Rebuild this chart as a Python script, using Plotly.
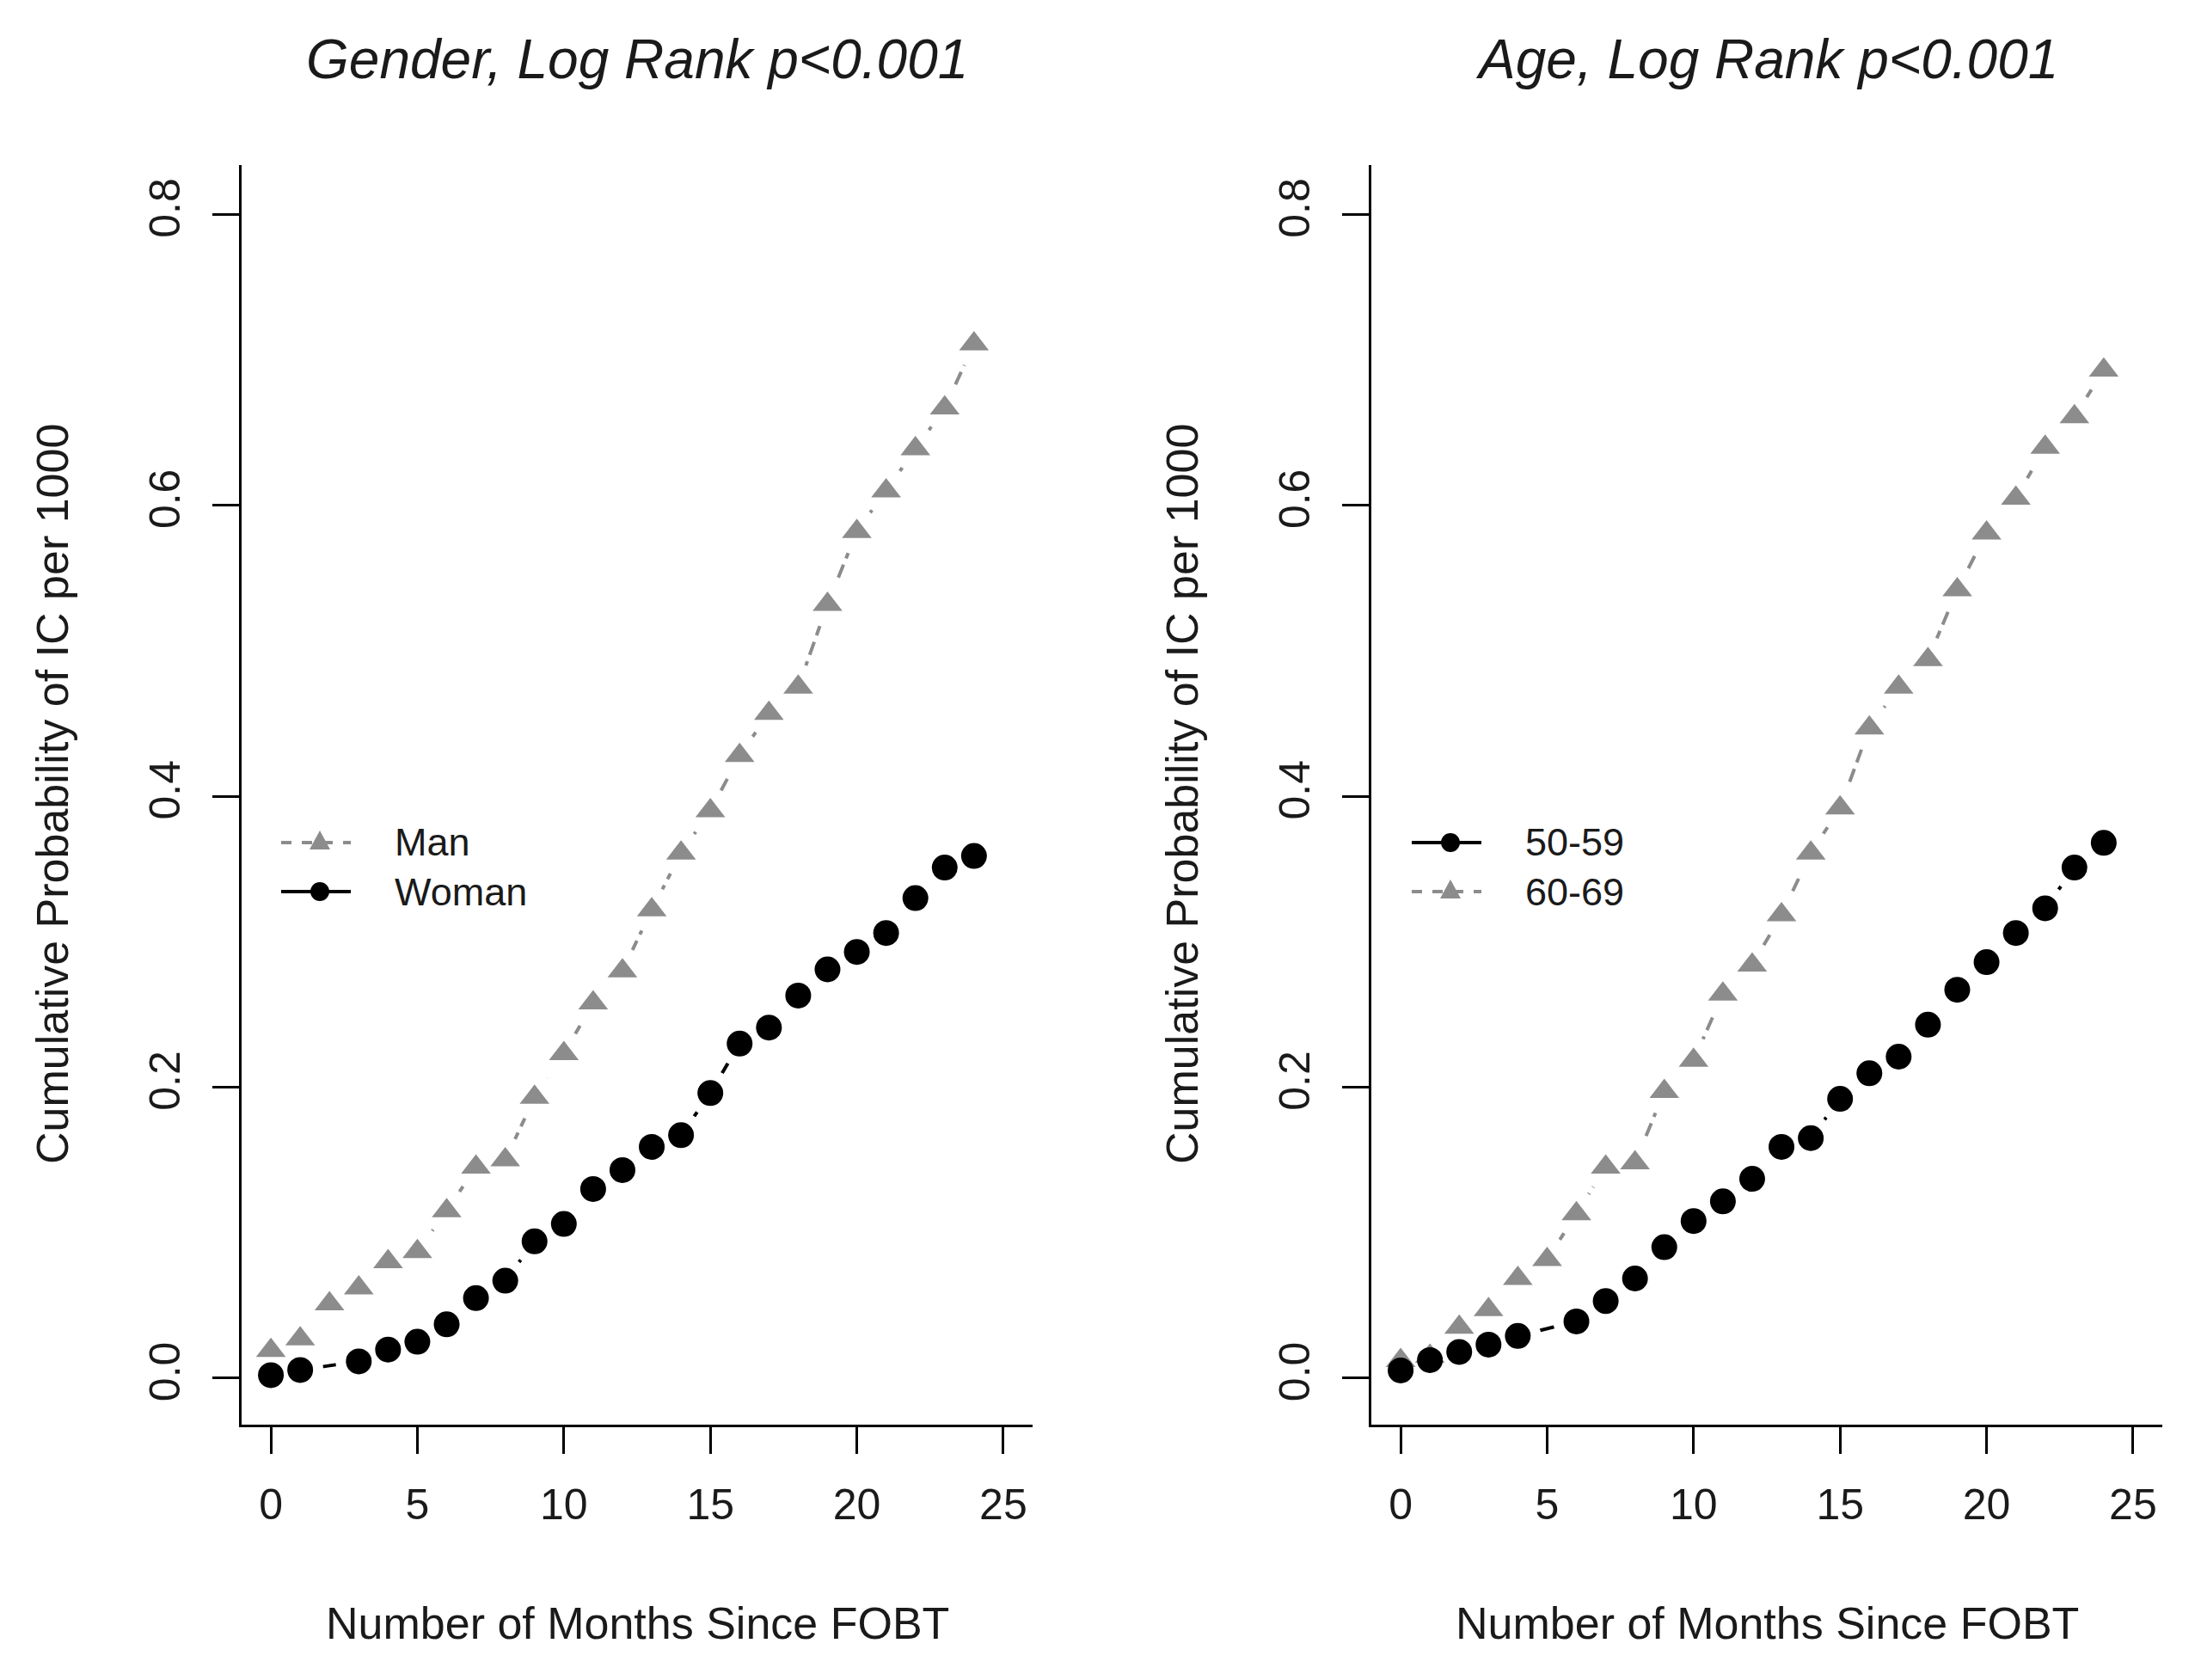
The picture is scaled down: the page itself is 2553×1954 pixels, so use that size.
import plotly.graph_objects as go

# ---------------- data ----------------
months = list(range(25))

man = [0.019, 0.027, 0.051, 0.062, 0.080, 0.087, 0.115, 0.145, 0.150, 0.193,
       0.223, 0.258, 0.280, 0.322, 0.361, 0.390, 0.428, 0.457, 0.475, 0.532,
       0.582, 0.610, 0.639, 0.667, 0.711]

woman_months = [0, 1, 3, 4, 5, 6, 7, 8, 9, 10, 11, 12, 13, 14, 15, 16, 17, 18,
                19, 20, 21, 22, 23, 24]
woman = [0.002, 0.0056, 0.0115, 0.0196, 0.025, 0.037, 0.055, 0.067, 0.094,
         0.106, 0.130, 0.143, 0.159, 0.167, 0.196, 0.230, 0.241, 0.263, 0.281,
         0.293, 0.306, 0.330, 0.351, 0.359]

age50_months = [0, 1, 2, 3, 4, 6, 7, 8, 9, 10, 11, 12, 13, 14, 15, 16, 17, 18,
                19, 20, 21, 22, 23, 24]
age50 = [0.0053, 0.0124, 0.018, 0.023, 0.029, 0.039, 0.053, 0.0685, 0.090,
         0.108, 0.1215, 0.137, 0.159, 0.165, 0.192, 0.2096, 0.221, 0.243,
         0.267, 0.286, 0.306, 0.323, 0.351, 0.368]

age60 = [0.012, 0.015, 0.035, 0.047, 0.0685, 0.0815, 0.113, 0.145, 0.148,
         0.197, 0.2185, 0.264, 0.284, 0.3185, 0.361, 0.392, 0.447, 0.475,
         0.494, 0.542, 0.581, 0.605, 0.640, 0.661, 0.693]

x_ticks = [0, 5, 10, 15, 20, 25]
y_ticks = [0.0, 0.2, 0.4, 0.6, 0.8]
y_tick_text = ["0.0", "0.2", "0.4", "0.6", "0.8"]

titles = ["Gender, Log Rank p<0.001", "Age, Log Rank p<0.001"]
x_title = "Number of Months Since FOBT"
y_title = "Cumulative Probability of IC per 1000"
legend_left = ["Man", "Woman"]
legend_right = ["50-59", "60-69"]

# ---------------- styling ----------------
W, H = 2553, 1954
GRAY = "#8c8c8c"
BLACK = "#000000"
TXT = "#1a1a1a"
FONT = "Liberation Sans, Arial, sans-serif"


def px(x):
    return x / W


def py(y):
    return 1 - y / H


panel_x = [(281, 1201), (1595, 2515)]
panel_y = (192, 1657)

fig = go.Figure()


def add_series(xs, ys, color, symbol, size, dash, xa, ya, stage):
    if stage == "line":
        fig.add_trace(go.Scatter(x=xs, y=ys, mode="lines", xaxis=xa, yaxis=ya,
                                 line=dict(color=color, width=4, dash=dash),
                                 showlegend=False, hoverinfo="skip"))
    elif stage == "halo":
        fig.add_trace(go.Scatter(x=xs, y=ys, mode="markers", xaxis=xa, yaxis=ya,
                                 marker=dict(color="white", size=54, line=dict(width=0)),
                                 showlegend=False, hoverinfo="skip"))
    else:
        fig.add_trace(go.Scatter(x=xs, y=ys, mode="markers", xaxis=xa, yaxis=ya,
                                 marker=dict(color=color, size=size, symbol=symbol,
                                             line=dict(width=0)),
                                 showlegend=False))


series = [
    (months, man, GRAY, "triangle-up", 30, "16px,8px", "x", "y"),
    (woman_months, woman, BLACK, "circle", 30, "solid", "x", "y"),
    (months, age60, GRAY, "triangle-up", 30, "16px,8px", "x2", "y2"),
    (age50_months, age50, BLACK, "circle", 30, "solid", "x2", "y2"),
]
for stage in ["line", "halo", "marker"]:
    for s in series:
        add_series(*s, stage=stage)

axis_common = dict(showline=True, linecolor=BLACK, linewidth=2.5, ticks="outside",
                   ticklen=31, tickwidth=2.5, tickcolor=BLACK, showgrid=False,
                   zeroline=False, mirror=False,
                   tickfont=dict(family=FONT, size=50, color=TXT))

layout = dict(width=W, height=H, autosize=False,
              margin=dict(l=0, r=0, t=0, b=0),
              paper_bgcolor="white", plot_bgcolor="white",
              font=dict(family=FONT, color=TXT))

for i, (x0, x1) in enumerate(panel_x):
    sfx = "" if i == 0 else "2"
    layout["xaxis" + sfx] = dict(axis_common, domain=[px(x0), px(x1)], range=[-1, 26],
                                 tickvals=x_ticks, anchor="y" + sfx,
                                 ticklabelstandoff=16)
    layout["yaxis" + sfx] = dict(axis_common, domain=[py(panel_y[1]), py(panel_y[0])],
                                 range=[-0.032, 0.834], tickvals=y_ticks,
                                 ticktext=y_tick_text, tickangle=-90, anchor="x" + sfx,
                                 ticklabelstandoff=18)

fig.update_layout(**layout)

annotations = []
shapes = []
for i, (x0, x1) in enumerate(panel_x):
    cx = (x0 + x1) / 2
    annotations.append(dict(text="<i>" + titles[i] + "</i>", x=px(cx), y=py(69),
                            xref="paper", yref="paper", showarrow=False,
                            xanchor="center", yanchor="middle",
                            font=dict(family=FONT, size=64, color=TXT)))
    annotations.append(dict(text=x_title, x=px(cx), y=py(1888), xref="paper", yref="paper",
                            showarrow=False, xanchor="center", yanchor="middle",
                            font=dict(family=FONT, size=52, color=TXT)))
    annotations.append(dict(text=y_title, x=px(x0 - 220), y=py(924), xref="paper",
                            yref="paper", showarrow=False, textangle=-90,
                            xanchor="center", yanchor="middle",
                            font=dict(family=FONT, size=52, color=TXT)))

# legends (key glyphs drawn as shapes)
def legend_row(xl, y, label, color, kind, dash):
    xr = xl + 81
    xc = xl + 45
    shapes.append(dict(type="line", xref="paper", yref="paper", x0=px(xl), x1=px(xr),
                       y0=py(y), y1=py(y), line=dict(color=color, width=4, dash=dash)))
    if kind == "tri":
        path = "M {} {} L {} {} L {} {} Z".format(px(xc - 12), py(y + 8), px(xc + 12),
                                                  py(y + 8), px(xc), py(y - 14))
        shapes.append(dict(type="path", xref="paper", yref="paper", path=path,
                           fillcolor=color, line=dict(width=0)))
    else:
        shapes.append(dict(type="circle", xref="paper", yref="paper", x0=px(xc - 11),
                           x1=px(xc + 11), y0=py(y + 11), y1=py(y - 11),
                           fillcolor=color, line=dict(width=0)))
    annotations.append(dict(text=label, x=px(xl + 130), y=py(y), xref="paper",
                            yref="paper", showarrow=False, xanchor="left",
                            yanchor="middle", font=dict(family=FONT, size=45, color=TXT)))


legend_row(327, 980, legend_left[0], GRAY, "tri", "dash")
legend_row(327, 1037, legend_left[1], BLACK, "dot_", "solid")
legend_row(1642, 980, legend_right[0], BLACK, "dot_", "solid")
legend_row(1642, 1037, legend_right[1], GRAY, "tri", "dash")

fig.update_layout(annotations=annotations, shapes=shapes)

fig.write_html("out.html", include_plotlyjs=True,
               config={"displayModeBar": False},
               post_script="document.body.style.margin='0';document.body.style.overflow='hidden';")
